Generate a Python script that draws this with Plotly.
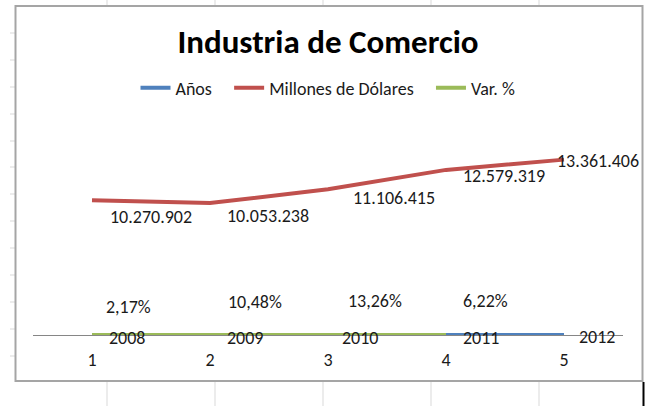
import plotly.graph_objects as go

# ---------------- data ----------------
categories = [1, 2, 3, 4, 5]
tick_labels = ["1", "2", "3", "4", "5"]
anios = [2008, 2009, 2010, 2011, 2012]
millones = [10270902, 10053238, 11106415, 12579319, 13361406]
var_pct = [0.0217, 0.1048, 0.1326, 0.0622]

series_names = ["Años", "Millones de Dólares", "Var. %"]
title_text = "Industria de Comercio"

# ---------------- styles ----------------
W, H = 647, 406
PL, PR, PT, PB = 33, 623, 125, 335          # plot area in pixels
FONT = "Calibri, Carlito, Lato, sans-serif"
BLUE, RED, GREEN = "#4F81BD", "#C0504D", "#9BBB59"
TXT = "#1a1a1a"
PAD = "\u00a0" * 3   # extra spacing between legend entries

# label pixel offsets (manually placed labels in the original)
mill_dx = [16, 15, 23, 15, -9]
mill_dy = [-17, -13, -9, -6, -1]
var_dx = [12, 16, 18, 15]
var_dy = [28, 33, 34, 34]
anio_dx = [15, 15, 12, 15, 13]
anio_dy = [-3, -3, -3, -3, -2]


def px(x):
    return (x - PL) / (PR - PL)


def py(y):
    return (PB - y) / (PB - PT)


def fmt_mill(v):
    return f"{v:,}".replace(",", ".")


def fmt_pct(v):
    return f"{v*100:.2f}%".replace(".", ",")


fig = go.Figure()
fig.add_trace(go.Scatter(x=categories, y=anios, name=series_names[0] + PAD, mode="lines",
                         line=dict(color=BLUE, width=4), hoverinfo="skip"))
fig.add_trace(go.Scatter(x=categories, y=millones, name=series_names[1] + PAD, mode="lines",
                         line=dict(color=RED, width=4), hoverinfo="skip"))
fig.add_trace(go.Scatter(x=categories[:len(var_pct)], y=var_pct, name=series_names[2], mode="lines",
                         line=dict(color=GREEN, width=4), hoverinfo="skip"))

ann = []
lab_font = dict(family=FONT, size=18, color=TXT)
for i, (c, v) in enumerate(zip(categories, millones)):
    ann.append(dict(x=c, y=v, xref="x", yref="y", text=fmt_mill(v), showarrow=False,
                    xanchor="left", yanchor="middle", xshift=mill_dx[i], yshift=mill_dy[i],
                    font=lab_font))
for i, (c, v) in enumerate(zip(categories, var_pct)):
    ann.append(dict(x=c, y=v, xref="x", yref="y", text=fmt_pct(v), showarrow=False,
                    xanchor="left", yanchor="middle", xshift=var_dx[i], yshift=var_dy[i],
                    font=lab_font))
for i, (c, v) in enumerate(zip(categories, anios)):
    ann.append(dict(x=c, y=v, xref="x", yref="y", text=str(v), showarrow=False,
                    xanchor="left", yanchor="middle", xshift=anio_dx[i], yshift=anio_dy[i],
                    font=lab_font))

shapes = []
GRID = "#d9d9d9"
# spreadsheet cell lines outside the chart
for yy in [33, 60, 87, 114, 141, 167, 194, 221, 248, 275, 302, 329, 356]:
    shapes.append(dict(type="line", xref="paper", yref="paper", x0=px(10), x1=px(15),
                       y0=py(yy), y1=py(yy), line=dict(color=GRID, width=1), layer="below"))
for xx in [107, 215, 323, 431, 539]:
    shapes.append(dict(type="line", xref="paper", yref="paper", x0=px(xx), x1=px(xx),
                       y0=py(382), y1=py(406), line=dict(color=GRID, width=1), layer="below"))
    shapes.append(dict(type="line", xref="paper", yref="paper", x0=px(xx), x1=px(xx),
                       y0=py(0), y1=py(5), line=dict(color=GRID, width=1), layer="below"))
# chart border
shapes.append(dict(type="rect", xref="paper", yref="paper", x0=px(15.5), x1=px(642.5),
                   y0=py(381), y1=py(6), line=dict(color="#a5a5a5", width=2), layer="below"))
# selected-cell edge
shapes.append(dict(type="line", xref="paper", yref="paper", x0=px(643.5), x1=px(643.5),
                   y0=py(382), y1=py(406), line=dict(color="#000000", width=2)))

fig.update_layout(
    width=W, height=H,
    margin=dict(l=PL, r=W - PR, t=PT, b=H - PB),
    paper_bgcolor="white", plot_bgcolor="white",
    title=dict(text=title_text, x=0.5, xanchor="center", xref="paper",
               y=1 - 41 / H, yanchor="middle", yref="container",
               font=dict(family=FONT, size=33, color="#000000", weight="bold")),
    legend=dict(orientation="h", x=0.5, xanchor="center", y=py(88), yanchor="middle",
                font=dict(family=FONT, size=18, color=TXT), bgcolor="rgba(0,0,0,0)",
                itemwidth=30),
    showlegend=True,
    xaxis=dict(range=[0.5, 5.5], tickvals=categories, ticktext=tick_labels,
               showgrid=False, zeroline=False, showline=False, ticks="",
               tickfont=dict(family=FONT, size=18, color=TXT), ticklabelstandoff=12,
               fixedrange=True),
    yaxis=dict(range=[0, 16000000], showgrid=False, zeroline=True, zerolinecolor="#868686",
               zerolinewidth=1, showticklabels=False, showline=False, ticks="",
               fixedrange=True),
    annotations=ann,
    shapes=shapes,
)

fig.write_html("out.html", config={"displayModeBar": False},
               post_script="document.body.style.margin='0';document.body.style.overflow='hidden';")
